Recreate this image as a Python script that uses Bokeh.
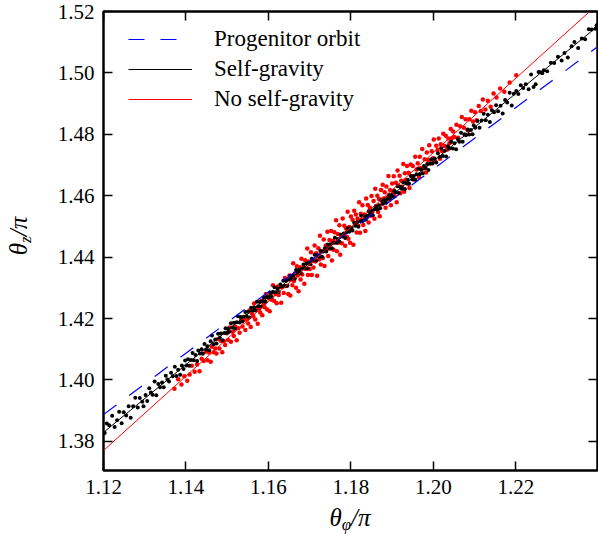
from bokeh.plotting import figure
from bokeh.layouts import row, column
from bokeh.models import (Range1d, FixedTicker, PrintfTickFormatter, LinearAxis,
                          Legend, LegendItem, Div)
from bokeh.embed import file_html
from bokeh.resources import INLINE

# ---------------- data ----------------
x_ticks = [1.12, 1.14, 1.16, 1.18, 1.20, 1.22]
y_ticks = [1.38, 1.40, 1.42, 1.44, 1.46, 1.48, 1.50, 1.52]

# Progenitor orbit (blue dashed)
prog_x = [1.12, 1.2398]
prog_y = [1.3887, 1.5085]
# Self-gravity fit (black)
self_x = [1.12, 1.2398]
self_y = [1.3829, 1.5152]
# No self-gravity fit (red)
noself_x = [1.12, 1.2398]
noself_y = [1.3770, 1.5223]

# Self-gravity particles (black dots)
black_x = [
    1.1203, 1.1208, 1.1214, 1.1221, 1.1227, 1.1233, 1.1238, 1.1244, 1.1249, 1.1255, 1.1261, 1.1266, 1.1272, 1.1277, 1.1283, 1.1288, 1.1294, 1.1297,
    1.1302, 1.1306, 1.1311, 1.1315, 1.1319, 1.1324, 1.1328, 1.1333, 1.1337, 1.1342, 1.1346, 1.1351, 1.1355, 1.1359, 1.1364, 1.1368, 1.1373, 1.1377, 1.1381, 1.1386, 1.1390, 1.1394, 1.1398,
    1.1401, 1.1405, 1.1408, 1.1412, 1.1416, 1.1419, 1.1423, 1.1427, 1.1430, 1.1434, 1.1438, 1.1441, 1.1445, 1.1449, 1.1452, 1.1456, 1.1460, 1.1463, 1.1467, 1.1471, 1.1474, 1.1478, 1.1482, 1.1485, 1.1489, 1.1493, 1.1496, 1.1499,
    1.1502, 1.1505, 1.1509, 1.1512, 1.1516, 1.1519, 1.1523, 1.1526, 1.1530, 1.1533, 1.1537, 1.1540, 1.1544, 1.1547, 1.1551, 1.1554, 1.1558, 1.1561, 1.1565, 1.1568, 1.1572, 1.1575, 1.1579, 1.1582, 1.1586, 1.1589, 1.1593, 1.1596,
    1.1601, 1.1604, 1.1608, 1.1611, 1.1615, 1.1618, 1.1622, 1.1625, 1.1629, 1.1632, 1.1636, 1.1639, 1.1643, 1.1646, 1.1650, 1.1653, 1.1657, 1.1660, 1.1664, 1.1667, 1.1671, 1.1674, 1.1678, 1.1681, 1.1685, 1.1688, 1.1692, 1.1695, 1.1698,
    1.1702, 1.1705, 1.1709, 1.1712, 1.1716, 1.1719, 1.1723, 1.1726, 1.1730, 1.1733, 1.1737, 1.1740, 1.1744, 1.1747, 1.1751, 1.1754, 1.1758, 1.1761, 1.1765, 1.1768, 1.1772, 1.1775, 1.1779, 1.1782, 1.1786, 1.1789, 1.1793, 1.1796,
    1.1801, 1.1804, 1.1808, 1.1811, 1.1815, 1.1818, 1.1822, 1.1825, 1.1829, 1.1832, 1.1836, 1.1839, 1.1843, 1.1846, 1.1850, 1.1853, 1.1857, 1.1860, 1.1864, 1.1867, 1.1871, 1.1874, 1.1878, 1.1881, 1.1885, 1.1888, 1.1892, 1.1895, 1.1898,
    1.1902, 1.1905, 1.1909, 1.1913, 1.1916, 1.1920, 1.1923, 1.1927, 1.1931, 1.1934, 1.1938, 1.1941, 1.1945, 1.1949, 1.1952, 1.1956, 1.1959, 1.1963, 1.1967, 1.1970, 1.1974, 1.1977, 1.1981, 1.1985, 1.1988, 1.1992, 1.1995, 1.1998,
    1.2003, 1.2007, 1.2011, 1.2015, 1.2019, 1.2023, 1.2027, 1.2031, 1.2035, 1.2039, 1.2043, 1.2047, 1.2051, 1.2055, 1.2059, 1.2063, 1.2067, 1.2071, 1.2075, 1.2079, 1.2083, 1.2087, 1.2091, 1.2095, 1.2098,
    1.2102, 1.2107, 1.2112, 1.2117, 1.2122, 1.2127, 1.2132, 1.2137, 1.2142, 1.2147, 1.2152, 1.2157, 1.2163, 1.2168, 1.2174, 1.2179, 1.2185, 1.2190, 1.2195,
    1.2201, 1.2206, 1.2212, 1.2218, 1.2224, 1.2231, 1.2237, 1.2243, 1.2248, 1.2255, 1.2260, 1.2264, 1.2268, 1.2276, 1.2285, 1.2293, 1.2302, 1.2311, 1.2318, 1.2326, 1.2335, 1.2342, 1.2351, 1.2360, 1.2368, 1.2377, 1.2384, 1.2393, 1.2396,
]
black_y = [
    1.3827, 1.3858, 1.3852, 1.3883, 1.3847, 1.3869, 1.3896, 1.3859, 1.3895, 1.3884, 1.3914, 1.3877, 1.3914, 1.3942, 1.3910, 1.3941, 1.3929, 1.3914,
    1.3951, 1.3931, 1.3973, 1.3959, 1.3952, 1.3995, 1.3950, 1.3987, 1.3976, 1.3992, 1.3976, 1.4014, 1.4001, 1.3995, 1.4023, 1.4012, 1.4043, 1.4013, 1.4033, 1.4017, 1.4047, 1.4036, 1.4063,
    1.4047, 1.4067, 1.4046, 1.4065, 1.4088, 1.4064, 1.4081, 1.4062, 1.4096, 1.4086, 1.4100, 1.4085, 1.4117, 1.4099, 1.4110, 1.4097, 1.4126, 1.4145, 1.4116, 1.4132, 1.4119, 1.4150, 1.4137, 1.4151, 1.4129, 1.4153, 1.4168, 1.4153,
    1.4167, 1.4157, 1.4185, 1.4171, 1.4186, 1.4167, 1.4188, 1.4207, 1.4187, 1.4205, 1.4190, 1.4206, 1.4221, 1.4208, 1.4222, 1.4203, 1.4235, 1.4226, 1.4236, 1.4226, 1.4255, 1.4240, 1.4254, 1.4238, 1.4256, 1.4268, 1.4255, 1.4271,
    1.4269, 1.4284, 1.4270, 1.4287, 1.4302, 1.4285, 1.4297, 1.4286, 1.4311, 1.4304, 1.4323, 1.4306, 1.4323, 1.4307, 1.4327, 1.4339, 1.4329, 1.4340, 1.4330, 1.4358, 1.4348, 1.4358, 1.4348, 1.4362, 1.4376, 1.4364, 1.4379, 1.4364, 1.4382,
    1.4377, 1.4395, 1.4389, 1.4408, 1.4389, 1.4406, 1.4401, 1.4420, 1.4401, 1.4418, 1.4429, 1.4418, 1.4441, 1.4430, 1.4442, 1.4429, 1.4447, 1.4463, 1.4447, 1.4459, 1.4451, 1.4473, 1.4467, 1.4477, 1.4462, 1.4481, 1.4494, 1.4483,
    1.4496, 1.4487, 1.4512, 1.4502, 1.4514, 1.4499, 1.4518, 1.4535, 1.4518, 1.4534, 1.4522, 1.4535, 1.4549, 1.4539, 1.4551, 1.4536, 1.4556, 1.4566, 1.4555, 1.4569, 1.4559, 1.4585, 1.4575, 1.4587, 1.4577, 1.4589, 1.4602, 1.4591, 1.4602,
    1.4597, 1.4617, 1.4611, 1.4631, 1.4609, 1.4628, 1.4623, 1.4643, 1.4622, 1.4641, 1.4652, 1.4639, 1.4665, 1.4654, 1.4664, 1.4652, 1.4670, 1.4688, 1.4670, 1.4685, 1.4673, 1.4697, 1.4690, 1.4703, 1.4684, 1.4705, 1.4719, 1.4705,
    1.4721, 1.4708, 1.4738, 1.4726, 1.4755, 1.4729, 1.4746, 1.4728, 1.4761, 1.4754, 1.4776, 1.4754, 1.4771, 1.4751, 1.4785, 1.4776, 1.4805, 1.4776, 1.4800, 1.4797, 1.4816, 1.4799, 1.4814, 1.4800, 1.4829,
    1.4821, 1.4843, 1.4821, 1.4845, 1.4867, 1.4846, 1.4864, 1.4840, 1.4878, 1.4872, 1.4895, 1.4875, 1.4893, 1.4868, 1.4912, 1.4904, 1.4935, 1.4894, 1.4932,
    1.4941, 1.4931, 1.4960, 1.4951, 1.4963, 1.4947, 1.4995, 1.4954, 1.4963, 1.5003, 1.5002, 1.4999, 1.5009, 1.5005, 1.5033, 1.5032, 1.5053, 1.5040, 1.5065, 1.5050, 1.5087, 1.5101, 1.5081, 1.5112, 1.5110, 1.5142, 1.5141, 1.5144, 1.5155,
]

# No self-gravity particles (red dots)
red_x = [
    1.1372, 1.1381, 1.1389, 1.1396, 1.1403, 1.1409, 1.1414, 1.1421, 1.1427, 1.1433, 1.1438, 1.1443, 1.1448,
    1.1452, 1.1456, 1.1460, 1.1463, 1.1467, 1.1471, 1.1474, 1.1478, 1.1481, 1.1485, 1.1488, 1.1492, 1.1495, 1.1499, 1.1502, 1.1506, 1.1509, 1.1513, 1.1516, 1.1520, 1.1523, 1.1527, 1.1530, 1.1534, 1.1537, 1.1541, 1.1544, 1.1548,
    1.1551, 1.1554, 1.1557, 1.1560, 1.1563, 1.1565, 1.1568, 1.1571, 1.1574, 1.1577, 1.1580, 1.1583, 1.1585, 1.1588, 1.1591, 1.1594, 1.1597, 1.1600, 1.1603, 1.1605, 1.1608, 1.1611, 1.1614, 1.1617, 1.1620, 1.1623, 1.1625, 1.1628, 1.1631, 1.1634, 1.1637, 1.1640, 1.1643, 1.1646, 1.1648,
    1.1651, 1.1653, 1.1655, 1.1658, 1.1660, 1.1662, 1.1664, 1.1667, 1.1669, 1.1671, 1.1673, 1.1676, 1.1678, 1.1680, 1.1682, 1.1685, 1.1687, 1.1689, 1.1691, 1.1694, 1.1696, 1.1698, 1.1700, 1.1703, 1.1705, 1.1707, 1.1709, 1.1712, 1.1714, 1.1716, 1.1718, 1.1721, 1.1723, 1.1725, 1.1727, 1.1730, 1.1732, 1.1734, 1.1736, 1.1739, 1.1741, 1.1743, 1.1745, 1.1748,
    1.1750, 1.1752, 1.1754, 1.1756, 1.1758, 1.1760, 1.1762, 1.1764, 1.1766, 1.1768, 1.1770, 1.1772, 1.1774, 1.1776, 1.1778, 1.1780, 1.1782, 1.1784, 1.1786, 1.1788, 1.1790, 1.1792, 1.1794, 1.1796, 1.1798, 1.1800, 1.1802, 1.1804, 1.1806, 1.1808, 1.1810, 1.1812, 1.1814, 1.1816, 1.1818, 1.1820, 1.1822, 1.1824, 1.1826, 1.1828, 1.1830, 1.1833, 1.1835, 1.1837, 1.1839, 1.1841, 1.1843, 1.1846, 1.1848,
    1.1850, 1.1852, 1.1855, 1.1857, 1.1859, 1.1861, 1.1864, 1.1866, 1.1868, 1.1870, 1.1873, 1.1875, 1.1877, 1.1879, 1.1882, 1.1884, 1.1886, 1.1888, 1.1891, 1.1893, 1.1895, 1.1897, 1.1900, 1.1902, 1.1904, 1.1906, 1.1909, 1.1911, 1.1913, 1.1915, 1.1918, 1.1920, 1.1922, 1.1924, 1.1927, 1.1929, 1.1931, 1.1933, 1.1936, 1.1938, 1.1940, 1.1942, 1.1945, 1.1947,
    1.1950, 1.1953, 1.1956, 1.1959, 1.1962, 1.1965, 1.1967, 1.1970, 1.1973, 1.1976, 1.1979, 1.1982, 1.1984, 1.1987, 1.1990, 1.1993, 1.1996, 1.1999, 1.2001, 1.2004, 1.2007, 1.2010, 1.2013, 1.2016, 1.2018, 1.2021, 1.2024, 1.2027, 1.2030, 1.2033, 1.2036, 1.2039, 1.2042, 1.2045, 1.2048,
    1.2051, 1.2056, 1.2060, 1.2065, 1.2069, 1.2074, 1.2078, 1.2083, 1.2087, 1.2092, 1.2096, 1.2101, 1.2105, 1.2110, 1.2115, 1.2120, 1.2126, 1.2132, 1.2139, 1.2146,
    1.2153, 1.2162, 1.2172, 1.2185, 1.2201,
]
red_y = [
    1.3971, 1.4002, 1.3985, 1.4012, 1.3997, 1.4018, 1.4046, 1.4027, 1.4050, 1.4028, 1.4069, 1.4062, 1.4092,
    1.4064, 1.4089, 1.4059, 1.4108, 1.4090, 1.4102, 1.4086, 1.4133, 1.4102, 1.4127, 1.4090, 1.4126, 1.4114, 1.4152, 1.4130, 1.4171, 1.4124, 1.4157, 1.4143, 1.4173, 1.4129, 1.4168, 1.4154, 1.4198, 1.4174, 1.4196, 1.4163, 1.4198,
    1.4184, 1.4226, 1.4172, 1.4216, 1.4207, 1.4249, 1.4197, 1.4234, 1.4183, 1.4229, 1.4220, 1.4258, 1.4211, 1.4246, 1.4237, 1.4280, 1.4229, 1.4266, 1.4224, 1.4279, 1.4261, 1.4308, 1.4257, 1.4280, 1.4250, 1.4304, 1.4277, 1.4302, 1.4251, 1.4303, 1.4283, 1.4332, 1.4306, 1.4327, 1.4280,
    1.4340, 1.4275, 1.4327, 1.4308, 1.4380, 1.4322, 1.4347, 1.4300, 1.4370, 1.4340, 1.4289, 1.4367, 1.4327, 1.4395, 1.4343, 1.4367, 1.4313, 1.4390, 1.4361, 1.4428, 1.4342, 1.4386, 1.4361, 1.4416, 1.4342, 1.4388, 1.4366, 1.4438, 1.4386, 1.4413, 1.4339, 1.4429, 1.4392, 1.4470, 1.4376, 1.4419, 1.4397, 1.4457, 1.4371, 1.4438, 1.4424, 1.4483, 1.4404, 1.4456,
    1.4427, 1.4485, 1.4389, 1.4453, 1.4424, 1.4481, 1.4448, 1.4520, 1.4419, 1.4475, 1.4447, 1.4504, 1.4408, 1.4471, 1.4445, 1.4526, 1.4469, 1.4502, 1.4437, 1.4494, 1.4466, 1.4548, 1.4460, 1.4498, 1.4447, 1.4532, 1.4488, 1.4522, 1.4440, 1.4551, 1.4509, 1.4539, 1.4480, 1.4526, 1.4502, 1.4579, 1.4479, 1.4541, 1.4521, 1.4569, 1.4505, 1.4539, 1.4485, 1.4591, 1.4529, 1.4570, 1.4513, 1.4561, 1.4535,
    1.4599, 1.4547, 1.4583, 1.4525, 1.4623, 1.4566, 1.4600, 1.4547, 1.4589, 1.4533, 1.4619, 1.4572, 1.4636, 1.4591, 1.4611, 1.4561, 1.4630, 1.4593, 1.4664, 1.4587, 1.4619, 1.4569, 1.4640, 1.4613, 1.4663, 1.4598, 1.4642, 1.4579, 1.4682, 1.4633, 1.4665, 1.4608, 1.4649, 1.4629, 1.4703, 1.4613, 1.4673, 1.4650, 1.4697, 1.4639, 1.4675, 1.4625, 1.4702, 1.4663,
    1.4697, 1.4653, 1.4727, 1.4685, 1.4706, 1.4660, 1.4727, 1.4690, 1.4752, 1.4689, 1.4719, 1.4676, 1.4741, 1.4716, 1.4764, 1.4705, 1.4745, 1.4722, 1.4783, 1.4712, 1.4763, 1.4749, 1.4786, 1.4720, 1.4768, 1.4745, 1.4802, 1.4762, 1.4795, 1.4750, 1.4786, 1.4771, 1.4817, 1.4787, 1.4809,
    1.4791, 1.4831, 1.4789, 1.4826, 1.4856, 1.4821, 1.4849, 1.4813, 1.4849, 1.4877, 1.4842, 1.4872, 1.4846, 1.4892, 1.4876, 1.4913, 1.4881, 1.4909, 1.4890, 1.4933,
    1.4920, 1.4949, 1.4939, 1.4969, 1.4992,
]

legend_labels = ["Progenitor orbit", "Self-gravity", "No self-gravity"]

# ---------------- figure ----------------
FONT = "Liberation Serif"

p = figure(width=558, height=505, output_backend="svg", toolbar_location=None,
           x_range=Range1d(1.12, 1.2398), y_range=Range1d(1.3705, 1.52),
           min_border_left=63, min_border_right=1, min_border_top=11,
           min_border_bottom=35, margin=0)
p.background_fill_color = "white"
p.border_fill_color = "white"
p.grid.visible = False
p.outline_line_color = "black"
p.outline_line_width = 2.5
p.outline_line_alpha = 1.0


def style_axis(ax, ticks, show_labels):
    ax.ticker = FixedTicker(ticks=ticks)
    ax.formatter = PrintfTickFormatter(format="%.2f")
    ax.axis_line_color = None
    ax.major_tick_in = 9
    ax.major_tick_out = 0
    ax.major_tick_line_width = 1.5
    ax.major_tick_line_color = "black"
    ax.minor_tick_line_color = None
    ax.axis_label = None
    if show_labels:
        ax.major_label_text_font = FONT
        ax.major_label_text_font_size = "21px"
        ax.major_label_text_color = "black"
        ax.major_label_standoff = 9
    else:
        ax.major_label_text_font_size = "1px"
        ax.major_label_text_color = None
        ax.major_label_text_alpha = 0
        ax.major_label_standoff = 0


style_axis(p.xaxis[0], x_ticks, True)
style_axis(p.yaxis[0], y_ticks, True)
top_ax = LinearAxis()
style_axis(top_ax, x_ticks, False)
p.add_layout(top_ax, "above")
right_ax = LinearAxis()
style_axis(right_ax, y_ticks, False)
p.add_layout(right_ax, "right")

# particles
p.scatter(red_x, red_y, size=4.5, fill_color="red", line_color=None)
p.scatter(black_x, black_y, size=4, fill_color="black", line_color=None)

# fitted lines
r_prog = p.line(prog_x, prog_y, line_color="blue", line_width=1.2, line_dash="16 16")
r_self = p.line(self_x, self_y, line_color="black", line_width=1)
r_noself = p.line(noself_x, noself_y, line_color="red", line_width=1)

legend = Legend(items=[LegendItem(label=legend_labels[0], renderers=[r_prog]),
                       LegendItem(label=legend_labels[1], renderers=[r_self]),
                       LegendItem(label=legend_labels[2], renderers=[r_noself])],
                location=(25, 356), orientation="vertical",
                label_text_font=FONT, label_text_font_size="23px",
                label_text_color="black",
                glyph_width=64, glyph_height=30, label_height=30,
                label_standoff=22, spacing=0, padding=0, margin=0,
                border_line_color=None, background_fill_alpha=0)
p.add_layout(legend)

# axis titles as real HTML text (theta with subscripts)
MATH = "font-family:'Liberation Serif'; font-style:italic; font-size:25px; color:black; white-space:nowrap;"
SUB = "font-size:17px; position:relative; top:4px;"

xlabel = Div(width=558, height=30, margin=0,
             text=('<div style="position:absolute; left:63px; top:1px; width:494px; '
                   'text-align:center; line-height:24px; ' + MATH + '">'
                   'θ<span style="' + SUB + '">φ</span>/π</div>'))
ylabel = Div(width=40, height=535, margin=0,
             text=('<div style="position:absolute; left:-81px; top:216px; width:200px; '
                   'height:40px; line-height:40px; text-align:center; '
                   'transform:rotate(-90deg); ' + MATH + '">'
                   'θ<span style="' + SUB + '">z</span>/π</div>'))

layout = row(ylabel, column(p, xlabel, spacing=0, margin=0), spacing=0, margin=0)

open("out.html", "w").write(file_html(layout, INLINE))
